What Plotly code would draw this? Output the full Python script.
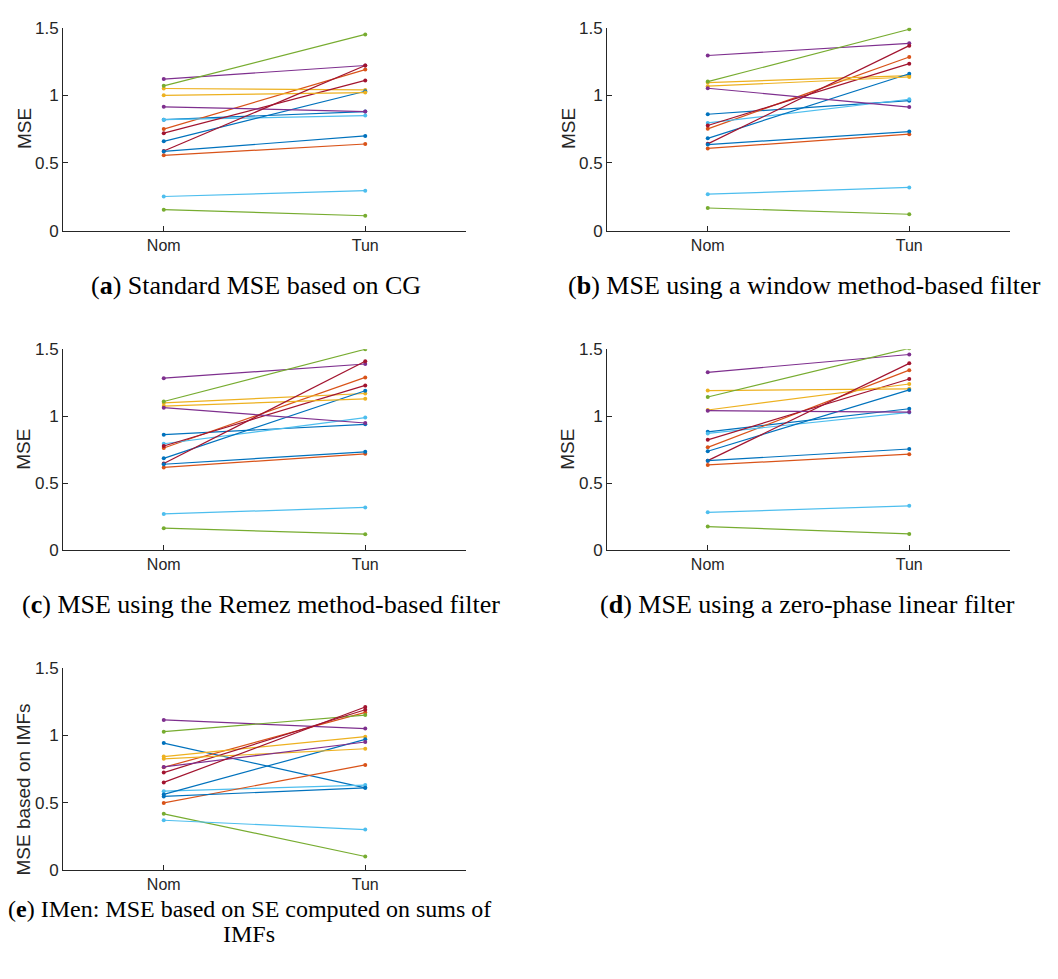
import plotly.graph_objects as go

# ---------------- data ----------------
categories = ["Nom", "Tun"]
colors = ["#0072BD", "#D95319", "#EDB120", "#7E2F8E", "#77AC30", "#4DBEEE", "#A2142F"]

nom_a = [0.82, 0.75, 1.05, 1.12, 1.07, 0.82, 0.72, 0.66, 0.556, 1.00, 0.915, 0.155, 0.252, 0.588, 0.585]
tun_a = [0.88, 1.19, 1.04, 1.22, 1.45, 0.85, 1.11, 1.03, 0.64, 1.02, 0.88, 0.11, 0.295, 1.22, 0.70]

nom_b = [0.86, 0.752, 1.094, 1.294, 1.101, 0.796, 0.777, 0.682, 0.607, 1.067, 1.052, 0.167, 0.269, 0.641, 0.636]
tun_b = [0.96, 1.283, 1.145, 1.384, 1.488, 0.971, 1.234, 1.159, 0.713, 1.135, 0.913, 0.121, 0.319, 1.367, 0.732]

nom_c = [0.863, 0.763, 1.10, 1.284, 1.11, 0.795, 0.778, 0.686, 0.618, 1.076, 1.064, 0.165, 0.271, 0.647, 0.642]
tun_c = [0.94, 1.29, 1.17, 1.39, 1.50, 0.99, 1.23, 1.19, 0.72, 1.13, 0.95, 0.12, 0.32, 1.41, 0.735]

nom_d = [0.884, 0.768, 1.192, 1.328, 1.144, 0.872, 0.824, 0.739, 0.637, 1.047, 1.042, 0.177, 0.283, 0.669, 0.669]
tun_d = [1.056, 1.344, 1.205, 1.461, 1.507, 1.029, 1.278, 1.197, 0.717, 1.241, 1.031, 0.122, 0.332, 1.395, 0.756]

nom_e = [0.942, 0.762, 0.842, 1.114, 1.027, 0.585, 0.723, 0.561, 0.498, 0.825, 0.765, 0.417, 0.369, 0.650, 0.546]
tun_e = [0.61, 1.17, 0.99, 1.05, 1.15, 0.63, 1.19, 0.97, 0.78, 0.90, 0.95, 0.10, 0.30, 1.21, 0.61]

panels_nom = [nom_a, nom_b, nom_c, nom_d, nom_e]
panels_tun = [tun_a, tun_b, tun_c, tun_d, tun_e]
ytitles = ["MSE", "MSE", "MSE", "MSE", "MSE based on IMFs"]
captions = [
    "(<b>a</b>) Standard MSE based on CG",
    "(<b>b</b>) MSE using a window method-based filter",
    "(<b>c</b>) MSE using the Remez method-based filter",
    "(<b>d</b>) MSE using a zero-phase linear filter",
]
caption_e = ["(<b>e</b>) IMen: MSE based on SE computed on sums of", "IMFs"]
yticks = [0, 0.5, 1, 1.5]
yticktext = ["0", "0.5", "1", "1.5"]

# ---------------- layout geometry (pixels) ----------------
W, H = 1058, 979
# (left, right, top, bottom) of each axes box
boxes = [
    (63, 466, 19, 226),
    (607, 1010, 19, 226),
    (63, 466, 347, 552),
    (607, 1010, 347, 552),
    (63, 466, 672, 878),
]

def px_x(p):
    return p / W

def px_y(p):
    return 1 - p / H

fig = go.Figure()
ink = "#262626"
tick_font = dict(family="Liberation Sans, Arial, sans-serif", size=17, color=ink)

for i, (nom, tun) in enumerate(zip(panels_nom, panels_tun)):
    ax = "" if i == 0 else str(i + 1)
    for k, (a, b) in enumerate(zip(nom, tun)):
        fig.add_trace(go.Scatter(
            x=[1, 2], y=[a, b], mode="lines+markers",
            line=dict(color=colors[k % 7], width=1.2),
            marker=dict(color=colors[k % 7], size=4),
            xaxis="x" + ax, yaxis="y" + ax, showlegend=False, hoverinfo="skip",
        ))
    l, r, t, b = boxes[i]
    fig.layout["xaxis" + ax] = dict(
        domain=[px_x(l), px_x(r)], range=[0.5, 2.5], anchor="y" + ax,
        tickvals=[1, 2], ticktext=categories, ticks="inside", ticklen=5,
        tickcolor=ink, showline=True, linecolor=ink, linewidth=1,
        showgrid=False, zeroline=False,
        tickfont=dict(family="Liberation Sans Narrow, Liberation Sans, Arial, sans-serif", size=16, color=ink),
        fixedrange=True,
    )
    fig.layout["yaxis" + ax] = dict(
        domain=[px_y(b), px_y(t)], range=[0, 1.5], anchor="x" + ax,
        tickvals=yticks, ticktext=yticktext, ticks="inside", ticklen=5,
        tickcolor=ink, showline=True, linecolor=ink, linewidth=1,
        showgrid=False, zeroline=False, tickfont=tick_font, fixedrange=True,
    )
    # y title
    cy = (t + b) / 2 if i < 4 else 796
    fig.add_annotation(
        x=px_x(l - 39), y=px_y(cy), xref="paper", yref="paper",
        text=ytitles[i], textangle=-90, showarrow=False,
        font=dict(family="Liberation Sans, Arial, sans-serif", size=19, color=ink),
        xanchor="center", yanchor="middle",
    )

cap_font = dict(family="Liberation Serif, Times New Roman, serif", size=26, color="#000000")
cap_font_e = dict(family="Liberation Serif, Times New Roman, serif", size=24, color="#000000")
cap_pos = [(256, 282), (804, 282), (261, 607), (807, 607)]
for txt, (cx, cy) in zip(captions, cap_pos):
    fig.add_annotation(x=px_x(cx), y=px_y(cy), xref="paper", yref="paper", text=txt,
                       showarrow=False, font=cap_font, xanchor="center", yanchor="middle")
for txt, cy in zip(caption_e, [918, 943]):
    fig.add_annotation(x=px_x(249), y=px_y(cy), xref="paper", yref="paper", text=txt,
                       showarrow=False, font=cap_font_e, xanchor="center", yanchor="middle")

fig.update_layout(
    width=W, height=H, margin=dict(l=0, r=0, t=0, b=0),
    paper_bgcolor="white", plot_bgcolor="white",
)

fig.write_html("out.html", config={"displayModeBar": False},
               post_script="document.body.style.margin='0';")
